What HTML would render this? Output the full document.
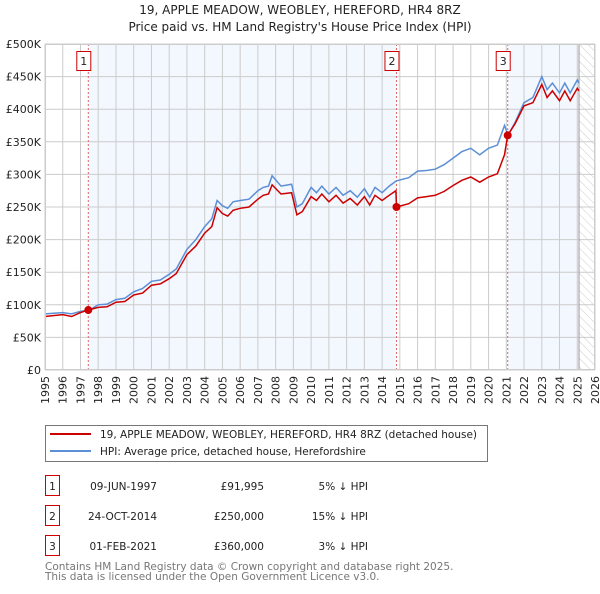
<!DOCTYPE html>
<html><head><meta charset="utf-8"><style>
body{margin:0;background:#fff;font-family:"DejaVu Sans","Liberation Sans",sans-serif;}
svg text{font-family:"DejaVu Sans","Liberation Sans",sans-serif;}
</style></head><body>
<svg id="chart" width="600" height="590" viewBox="0 0 600 590" xmlns="http://www.w3.org/2000/svg">
<defs><pattern id="hatch" width="6" height="6" patternUnits="userSpaceOnUse" patternTransform="rotate(-45)"><line x1="0" y1="0" x2="0" y2="6" stroke="#ccc" stroke-width="1"/></pattern></defs>
<text x="300" y="14" font-size="12" text-anchor="middle" fill="#222">19, APPLE MEADOW, WEOBLEY, HEREFORD, HR4 8RZ</text>
<text x="300" y="31" font-size="12" text-anchor="middle" fill="#222">Price paid vs. HM Land Registry's House Price Index (HPI)</text>
<g id="plot"></g>
<rect x="45.5" y="425.5" width="442" height="36" fill="#fff" stroke="#777"/>
<line x1="50" y1="434" x2="91" y2="434" stroke="#cc0000" stroke-width="2"/>
<text x="100" y="438" font-size="10.5" fill="#222">19, APPLE MEADOW, WEOBLEY, HEREFORD, HR4 8RZ (detached house)</text>
<line x1="50" y1="451" x2="91" y2="451" stroke="#5b8fd6" stroke-width="2"/>
<text x="100" y="455" font-size="10.5" fill="#222">HPI: Average price, detached house, Herefordshire</text>
<g font-size="10.5" fill="#222">
<rect x="45.5" y="475.5" width="14" height="20" fill="none" stroke="#cc0000"/>
<text x="52.5" y="490" text-anchor="middle">1</text>
<text x="157" y="490" text-anchor="end">09-JUN-1997</text>
<text x="264" y="490" text-anchor="end">£91,995</text>
<text x="368" y="490" text-anchor="end">5% ↓ HPI</text>
<rect x="45.5" y="505.5" width="14" height="20" fill="none" stroke="#cc0000"/>
<text x="52.5" y="520" text-anchor="middle">2</text>
<text x="157" y="520" text-anchor="end">24-OCT-2014</text>
<text x="264" y="520" text-anchor="end">£250,000</text>
<text x="368" y="520" text-anchor="end">15% ↓ HPI</text>
<rect x="45.5" y="535.5" width="14" height="20" fill="none" stroke="#cc0000"/>
<text x="52.5" y="550" text-anchor="middle">3</text>
<text x="157" y="550" text-anchor="end">01-FEB-2021</text>
<text x="264" y="550" text-anchor="end">£360,000</text>
<text x="368" y="550" text-anchor="end">3% ↓ HPI</text>
</g>
<text x="45" y="570" font-size="10.5" fill="#777">Contains HM Land Registry data © Crown copyright and database right 2025.</text>
<text x="45" y="580" font-size="10.5" fill="#777">This data is licensed under the Open Government Licence v3.0.</text>
</svg>
<script>
const yearTicks=[1995,1996,1997,1998,1999,2000,2001,2002,2003,2004,2005,2006,2007,2008,2009,2010,2011,2012,2013,2014,2015,2016,2017,2018,2019,2020,2021,2022,2023,2024,2025,2026];
const priceTicks=[0,50000,100000,150000,200000,250000,300000,350000,400000,450000,500000];
const priceTickLabels=["£0","£50K","£100K","£150K","£200K","£250K","£300K","£350K","£400K","£450K","£500K"];
const hpiDates=[1995,1996,1996.5,1997,1997.5,1998,1998.5,1999,1999.5,2000,2000.5,2001,2001.5,2002,2002.4,2003,2003.5,2004,2004.4,2004.7,2005,2005.3,2005.6,2006,2006.5,2007,2007.3,2007.6,2007.8,2008.3,2008.9,2009.2,2009.5,2010,2010.3,2010.6,2011,2011.4,2011.8,2012.2,2012.6,2013,2013.3,2013.6,2014,2014.4,2014.8,2015.5,2016,2016.5,2017,2017.5,2018,2018.5,2019,2019.5,2020,2020.5,2020.9,2021.1,2021.5,2022,2022.5,2023,2023.3,2023.6,2024,2024.3,2024.6,2025,2025.1];
const hpiValues=[86000,88000,86000,90000,92000,100000,101000,108000,110000,120000,125000,136000,138000,147000,155000,185000,200000,220000,232000,260000,252000,248000,258000,260000,262000,275000,280000,282000,298000,282000,285000,250000,255000,280000,272000,282000,270000,280000,268000,275000,265000,278000,265000,280000,272000,282000,290000,295000,305000,306000,308000,315000,325000,335000,340000,330000,340000,345000,375000,360000,380000,410000,418000,450000,430000,440000,425000,440000,425000,445000,440000];
const paidDates=[1995,1996,1996.5,1997,1997.44,1998,1998.5,1999,1999.5,2000,2000.5,2001,2001.5,2002,2002.4,2003,2003.5,2004,2004.4,2004.7,2005,2005.3,2005.6,2006,2006.5,2007,2007.3,2007.6,2007.8,2008.3,2008.9,2009.2,2009.5,2010,2010.3,2010.6,2011,2011.4,2011.8,2012.2,2012.6,2013,2013.3,2013.6,2014,2014.4,2014.78,2014.81,2015.5,2016,2016.5,2017,2017.5,2018,2018.5,2019,2019.5,2020,2020.5,2020.9,2021.08,2021.5,2022,2022.5,2023,2023.3,2023.6,2024,2024.3,2024.6,2025,2025.1];
const paidValues=[82000,85000,82000,88000,91995,96000,97000,104000,105000,115000,118000,130000,132000,140000,148000,177000,190000,210000,220000,249000,240000,236000,245000,248000,250000,262000,268000,270000,284000,270000,272000,238000,243000,266000,260000,270000,258000,268000,256000,263000,253000,266000,253000,268000,260000,268000,275000,250000,255000,264000,266000,268000,274000,283000,291000,296000,288000,296000,301000,330000,360000,378000,405000,410000,438000,418000,428000,413000,428000,413000,432000,428000];
const saleDates=[1997.44,2014.81,2021.08];
const saleValues=[91995,250000,360000];
const saleLabels=["1","2","3"];
const NS="http://www.w3.org/2000/svg";
const L=45,R=595,T=44,B=370,X0=1995,X1=2026,YMAX=500000;
const xs=d=>L+(d-X0)/(X1-X0)*(R-L);
const ys=v=>B-v/YMAX*(B-T);
const g=document.getElementById('plot');
function mk(tag,attrs){const e=document.createElementNS(NS,tag);for(const k in attrs)e.setAttribute(k,attrs[k]);g.appendChild(e);return e;}
let e;
e=mk('rect',{x:L,y:T,width:R-L,height:B-T,fill:'#fff'});


e=mk('rect',{x:xs(saleDates[0]),y:T,width:xs(saleDates[1])-xs(saleDates[0]),height:B-T,fill:'#eef3fd',opacity:0.7});


e=mk('rect',{x:xs(saleDates[2]),y:T,width:xs(2025.1)-xs(saleDates[2]),height:B-T,fill:'#eef3fd',opacity:0.7});


e=mk('rect',{x:xs(2025.1),y:T,width:R-xs(2025.1),height:B-T,fill:'url(#hatch)'});


yearTicks.forEach(y=>{
 e=mk('line',{x1:xs(y),x2:xs(y),y1:T,y2:B,stroke:'#ccc','stroke-width':1});
 
 
 e=mk('text',{x:0,y:0,'font-size':11,fill:'#222','text-anchor':'end',transform:`translate(${xs(y)+4},${B+6}) rotate(-90)`});
 e.textContent=y;
 
 
});
priceTicks.forEach((v,i)=>{
 e=mk('line',{x1:L,x2:R,y1:ys(v),y2:ys(v),stroke:'#ccc','stroke-width':1});
 
 
 e=mk('text',{x:L-4,y:ys(v)+4,'font-size':11,fill:'#222','text-anchor':'end'});
 e.textContent=priceTickLabels[i];
 
 
});
e=mk('line',{x1:xs(2025.1),x2:xs(2025.1),y1:T,y2:B,stroke:'#999','stroke-width':1});


saleDates.forEach((d,i)=>{
 e=mk('line',{x1:xs(d),x2:xs(d),y1:T,y2:B,stroke:'#e06666','stroke-width':1,'stroke-dasharray':'2,2'});
 
 
 e=mk('rect',{x:xs(d)-11.5,y:51.5,width:14,height:19,fill:'#fff',stroke:'#cc0000'});
 
 
 e=mk('text',{x:xs(d)-4.5,y:65,'font-size':11,fill:'#222','text-anchor':'middle'});
 e.textContent=saleLabels[i];
 
 
});
e=mk('path',{d:hpiDates.map((d,i)=>(i?'L':'M')+xs(d).toFixed(1)+','+ys(hpiValues[i]).toFixed(1)).join(''),fill:'none',stroke:'#5b8fd6','stroke-width':1.5});


e=mk('path',{d:paidDates.map((d,i)=>(i?'L':'M')+xs(d).toFixed(1)+','+ys(paidValues[i]).toFixed(1)).join(''),fill:'none',stroke:'#cc0000','stroke-width':1.5});


saleDates.forEach((d,i)=>{
 e=mk('circle',{cx:xs(d),cy:ys(saleValues[i]),r:4,fill:'#cc0000'});
 
 
});
e=mk('rect',{x:L+0.5,y:T+0.5,width:R-L-1,height:B-T-1,fill:'none',stroke:'#ccc'});


</script>
</body></html>
